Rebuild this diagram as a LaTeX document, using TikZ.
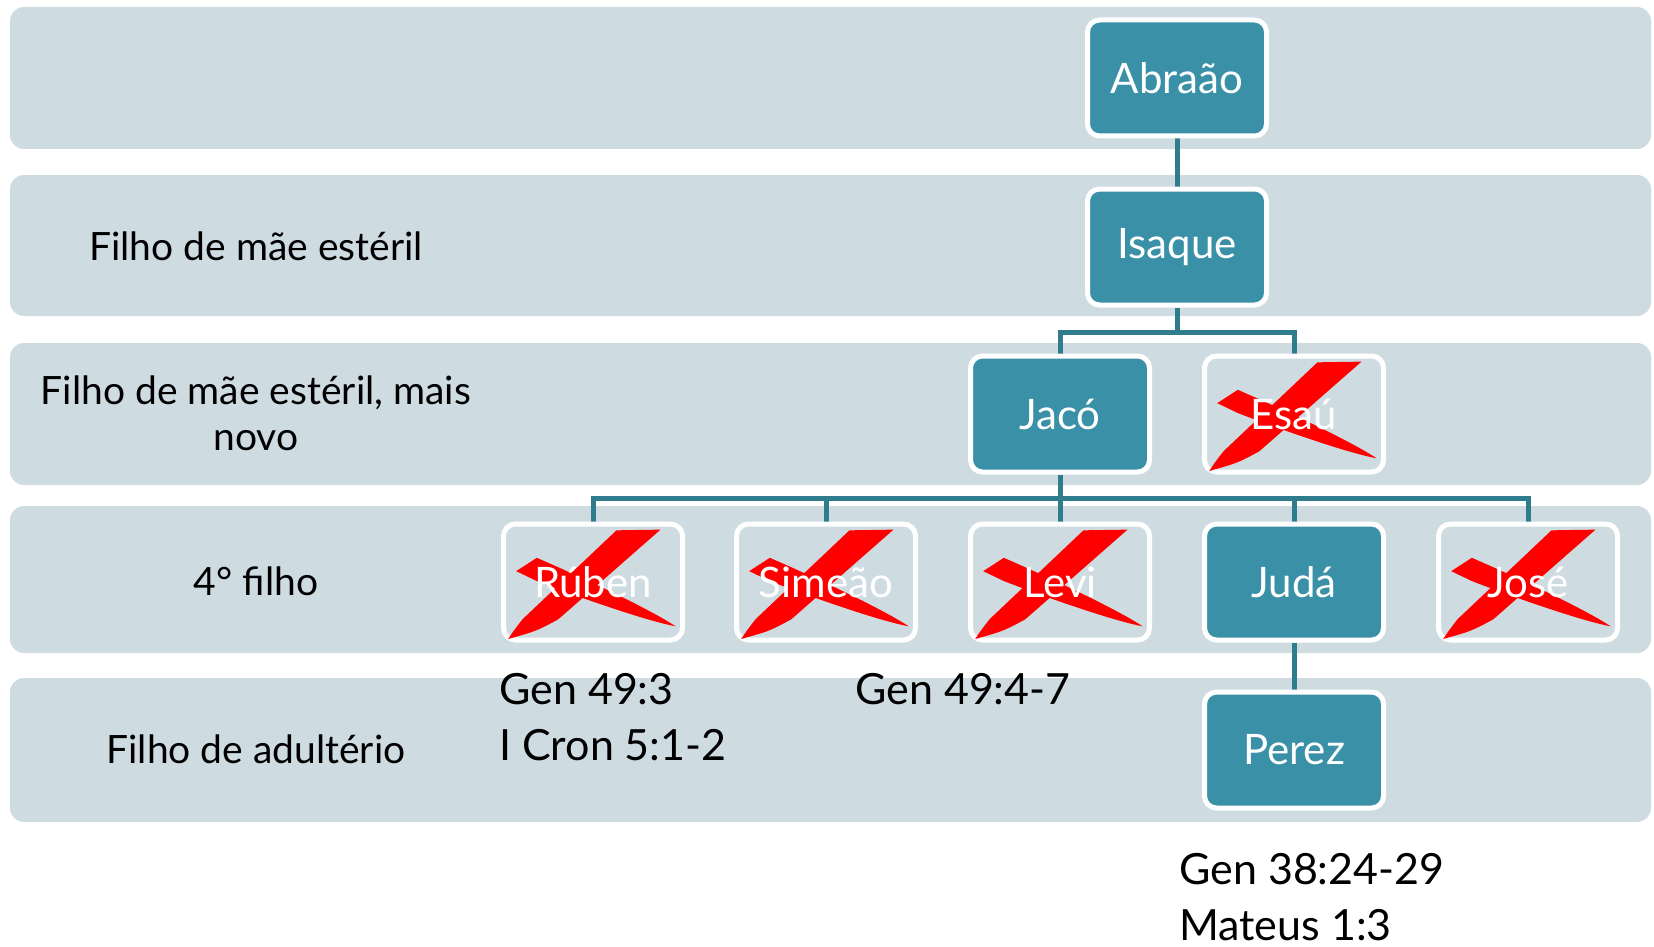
\documentclass[tikz,border=0pt]{standalone}
\usepackage{fontspec}
\setmainfont{Lato}
\definecolor{band}{HTML}{CEDBE1}
\definecolor{boxfill}{HTML}{3A91A7}
\definecolor{conn}{HTML}{2F7C8C}
\pgfdeclarelayer{back}
\pgfdeclarelayer{bg}
\pgfsetlayers{back,bg,main}
\tikzset{
  bandbox/.style={fill=band, draw=none, rounded corners=14pt},
  person/.style={draw=white, line width=5pt, fill=boxfill, rounded corners=12pt,
    minimum width=179pt, minimum height=116pt, inner sep=0pt, text=white,
    font=\fontsize{42}{48}\selectfont},
  crossed/.style={person, fill=none},
  ptext/.style={text=white, font=\fontsize{42}{48}\selectfont, inner sep=0pt},
  rowlabel/.style={align=center, font=\fontsize{39}{46}\selectfont, inner sep=0pt},
  ref/.style={align=left, anchor=north west, font=\fontsize{43}{56}\selectfont, inner sep=0pt},
  link/.style={draw=conn, line width=5pt},
}
\newcommand\redcross[1]{%
  \begin{scope}[shift={(#1.south west)}, x={(179pt,0pt)}, y={(0pt,116pt)}]
    \fill[red] (0.645,0.967) -- (0.891,0.973) -- (0.32,0.2) .. controls (0.2,0.1) .. (0.04,0.03)
      .. controls (0.07,0.1) .. (0.12,0.2) -- cycle;
    \fill[red] (0.085,0.615) -- (0.2,0.73) .. controls (0.5,0.53) and (0.85,0.27) .. (0.975,0.14)
      .. controls (0.8,0.19) and (0.4,0.41) .. (0.2,0.53) -- cycle;
  \end{scope}}
\begin{document}
\begin{tikzpicture}[x=1pt, y=-1pt]
\useasboundingbox (0,0) rectangle (1654,947);
% bands
\begin{pgfonlayer}{back}
\fill[bandbox] (10,7) rectangle (1651,149);
\fill[bandbox] (10,175) rectangle (1651,316);
\fill[bandbox] (10,343) rectangle (1651,485);
\fill[bandbox] (10,506) rectangle (1651,653);
\fill[bandbox] (10,678) rectangle (1651,822);
\end{pgfonlayer}
% row labels
\node[rowlabel] (l2) at (256,246) {Filho de mãe estéril};
\node[rowlabel] (l3) at (256,413) {Filho de mãe estéril, mais\\novo};
\node[rowlabel] (l4) at (256,581) {4° filho};
\node[rowlabel] (l5) at (256,749) {Filho de adultério};
% boxes
\node[person] (abraao) at (1177,78) {Abraão};
\node[person] (isaque) at (1177,247) {Isaque};
\node[person] (jaco) at (1060,414) {Jacó};
\node[crossed] (esau) at (1294,414) {};
\node[crossed] (ruben) at (593,582) {};
\node[crossed] (simeao) at (826,582) {};
\node[crossed] (levi) at (1060,582) {};
\node[person] (juda) at (1294,582) {Judá};
\node[crossed] (jose) at (1528,582) {};
\node[person] (perez) at (1294,750) {Perez};
% branch points
\coordinate (b1) at (1177,332);
\coordinate (b2) at (1060,498);
% connectors
\begin{pgfonlayer}{bg}
\draw[link] (abraao.south) -- (isaque.north);
\draw[link] (isaque.south) -- (b1);
\draw[link] (jaco.north) |- (b1) -| (esau.north);
\draw[link] (jaco.south) -- (levi.north);
\draw[link] (ruben.north) |- (b2) -| (jose.north);
\draw[link] (simeao.north) -- (simeao.north |- b2);
\draw[link] (juda.north) -- (juda.north |- b2);
\draw[link] (juda.south) -- (perez.north);
\end{pgfonlayer}
\redcross{esau}
\redcross{ruben}
\redcross{simeao}
\redcross{levi}
\redcross{jose}
\node[ptext] at (esau) {Esaú};
\node[ptext] at (ruben) {Rúben};
\node[ptext] at (simeao) {Simeão};
\node[ptext] at (levi) {Levi};
\node[ptext] at (jose) {José};
% references
\node[ref] (r1) at (499,673) {Gen 49:3\\I Cron 5:1-2};
\node[ref] (r2) at (855,673) {Gen 49:4-7};
\node[ref] (r3) at (1179,853) {Gen 38:24-29\\Mateus 1:3};
\end{tikzpicture}
\end{document}
